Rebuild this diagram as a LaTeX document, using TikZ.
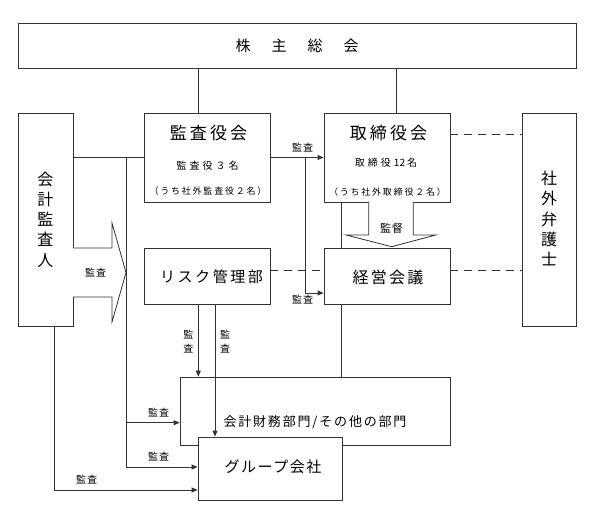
\documentclass[tikz,border=0pt]{standalone}
\usepackage{fontspec}
\setmainfont{Noto Sans CJK JP}
\usetikzlibrary{arrows.meta}
\definecolor{ln}{HTML}{333333}
\newcommand\jpsize[2]{\fontsize{#1}{#2}\selectfont}
\begin{document}
\begin{tikzpicture}[x=1pt,y=-1pt,
  box/.style={draw=ln, fill=white, line width=0.8pt, inner sep=0pt},
  conn/.style={draw=ln, line width=0.8pt},
  arr/.style={conn, -{Triangle[length=6pt,width=5pt]}},
  dsh/.style={conn, dash pattern=on 8pt off 6pt},
  txt/.style={inner sep=0pt, text=black},
  lbl/.style={txt, font=\jpsize{10}{14}\addfontfeature{LetterSpace=10}},
  ttl/.style={txt, font=\jpsize{17}{20}\addfontfeature{LetterSpace=18}},
  sub/.style={txt, font=\jpsize{10}{12}\addfontfeature{LetterSpace=30}},
  subp/.style={txt, font=\jpsize{10}{12}},
  par/.style={txt, font=\jpsize{9}{11}\addfontfeature{LetterSpace=20}},
  vert/.style={txt, align=center, font=\jpsize{16}{20.2}},
]
\useasboundingbox (0,0) rectangle (595,513);

% boxes
\node[box, minimum width=558pt, minimum height=45pt, font=\jpsize{15}{18}] (agm) at (297,45.5)
  {株\hspace{21pt}主\hspace{21pt}総\hspace{21pt}会};
\node[box, minimum width=55pt, minimum height=213pt] (auditor) at (45.5,219.5) {};
\node[box, minimum width=126pt, minimum height=89pt] (kansa) at (207,157.5) {};
\node[box, minimum width=126pt, minimum height=89pt] (board) at (387,157.5) {};
\node[box, minimum width=54pt, minimum height=213pt] (lawyer) at (549,219.5) {};
\node[box, minimum width=126pt, minimum height=56pt] (risk) at (207,276) {};
\node[box, minimum width=126pt, minimum height=56pt] (mgmt) at (387,276) {};
\node[box, minimum width=270pt, minimum height=68pt] (acct) at (315,411) {};
\node[box, minimum width=144pt, minimum height=63pt] (group) at (270,468.5) {};

% box texts
\node[vert] (tauditor) at (auditor.center) {会\\計\\監\\査\\人};
\node[vert] (tlawyer) at (549,218.5) {社\\外\\弁\\護\\士};
\node[ttl] (tkansa) at (208.5,133) {監査役会};
\node[sub] (skansa) at (207.5,166) {監査役３名};
\node[par] (pkansa) at (208,191) {（うち社外監査役２名）};
\node[ttl] (tboard) at (388.5,133) {取締役会};
\node[subp] (sboard) at (386,163) {取\kern3pt 締\kern3pt 役\kern3pt 12\kern2pt 名};
\node[par] (pboard) at (387.5,192.5) {（うち社外取締役２名）};
\node[txt, font=\jpsize{15}{18}\addfontfeature{LetterSpace=17}] (trisk) at (211.5,277) {リスク管理部};
\node[txt, font=\jpsize{16}{18}\addfontfeature{LetterSpace=14}] (tmgmt) at (388,277) {経営会議};
\node[txt, font=\jpsize{13}{16}\addfontfeature{LetterSpace=14}] (tacct) at (315,422.5) {会計財務部門/その他の部門};
\node[txt, font=\jpsize{15}{18}\addfontfeature{LetterSpace=10}] (tgroup) at (273,467) {グループ会社};

% lines from AGM
\draw[conn] ([xshift=-9pt]kansa.north) -- ([xshift=-9pt]kansa.north |- agm.south);
\draw[conn] ([xshift=9.7pt]board.north) -- ([xshift=9.7pt]board.north |- agm.south);

% auditor to kansa and bus
\coordinate (busTop) at (126,157.5);
\coordinate (busBot) at (126,467);
\draw[conn] (auditor.east |- kansa.west) -- (kansa.west);
\draw[conn] (busTop) -- (busBot);
\coordinate (acctIn) at (acct.west |- 0,422.7);
\draw[arr] (busBot |- acctIn) -- (acctIn);
\node[lbl] (l1) at (158.5,412.7) {監査};
\draw[arr] (busBot) -- (group.west |- busBot);
\node[lbl] (l2) at (158.5,456.7) {監査};

% auditor bottom to group
\coordinate (audB) at ([xshift=9pt]auditor.south);
\coordinate (corner) at (audB |- 0,490);
\draw[arr] (audB) -- (corner) -- (group.west |- corner);
\node[lbl] (l3) at (86.5,480) {監査};

% big block arrow from auditor
\draw[conn, fill=white] (73,248) -- (112,248) -- (112,223) -- (126,272.5) -- (112,322) -- (112,297) -- (73,297);
\node[lbl] (l4) at (95.5,272.7) {監査};

% kansa -> board, kansa -> mgmt
\draw[arr] (kansa.east) -- (board.west);
\node[lbl] (l5) at (302.5,148) {監査};
\coordinate (kb) at (305.7,157.5);
\coordinate (mgIn) at (mgmt.west |- 0,293);
\draw[arr] (kb) -- (kb |- mgIn) -- (mgIn);
\node[lbl] (l6) at (302.5,300) {監査};

% board - mgmt line and mgmt - acct line
\draw[conn] ([xshift=-45.3pt]board.south) -- ([xshift=-45.3pt]mgmt.north);
\draw[conn] ([xshift=-45.3pt]mgmt.south) -- ([xshift=-45.3pt]mgmt.south |- acct.north);

% supervision block arrow
\draw[conn, fill=white] (368.7,201.7) -- (368.7,235) -- (346,235) -- (391.7,246.7) -- (435.7,235) -- (413.3,235) -- (413.3,201.7);
\node[txt, font=\jpsize{11}{13}\addfontfeature{LetterSpace=8}] (l7) at (391.5,228.3) {監督};

% dashed lines
\draw[dsh] (board.east |- 0,134) -- (lawyer.west |- 0,134);
\draw[dsh] (mgmt.east |- 0,270) -- (lawyer.west |- 0,270);
\draw[dsh] (risk.east |- 0,270) -- (mgmt.west |- 0,270);

% risk -> acct, risk -> group
\coordinate (r1) at (198.3,0);
\coordinate (r2) at (215,0);
\draw[arr] (r1 |- risk.south) -- (r1 |- acct.north);
\draw[arr] (r2 |- risk.south) -- (r2 |- group.north);
\node[lbl, align=center] (l8) at (188.3,341.3) {監\\査};
\node[lbl, align=center] (l9) at (225,341.3) {監\\査};
\end{tikzpicture}
\end{document}
